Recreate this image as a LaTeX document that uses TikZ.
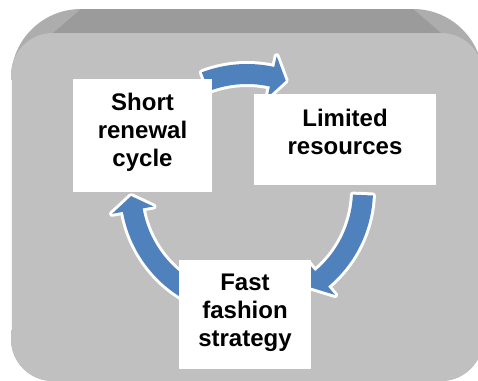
\documentclass[tikz,border=0pt]{standalone}
\usepackage{fontspec}
\setmainfont{Liberation Sans}
\definecolor{frontgray}{HTML}{C0C0C0}
\definecolor{topgray}{HTML}{9B9B9B}
\definecolor{sidegray}{HTML}{ADADAD}
\definecolor{cycleblue}{HTML}{4F81BD}
% curved arrow on a circle around (247,190):
% #1 tail angle, #2 head base angle, #3 tip angle
\newcommand\cyclearrow[3]{%
  \path[arrowshape]
    plot[domain=#1:#2,samples=40] ({247+126*cos(\x)},{190+126*sin(\x)})
    -- ({247+137*cos(#2)},{190+137*sin(#2)})
    -- ({247+116*cos(#3)},{190+116*sin(#3)})
    -- ({247+95*cos(#2)},{190+95*sin(#2)})
    -- plot[domain=#2:#1,samples=40] ({247+106*cos(\x)},{190+106*sin(\x)})
    -- cycle;}
\begin{document}
\begin{tikzpicture}[x=1pt,y=-1pt,
  arrowshape/.style={fill=cycleblue,
    preaction={draw=white,line width=6pt,line join=round}},
  card/.style={fill=white,draw=none,inner sep=0pt},
  cardtext/.style={align=center,inner sep=0pt,
    font=\fontsize{24}{28}\selectfont\bfseries}]
\useasboundingbox (0,0) rectangle (478,380);
\clip (0,0) rectangle (478,380);
% raised panel: extruded body, top face, front face
\fill[sidegray] (11,200) [rounded corners=70pt] -- (11,9) -- (483,9) -- (483,200)
  [rounded corners=42pt] -- (483,381) -- (11,381) -- cycle;
\fill[topgray] (81,9) -- (413,9) -- (441,33) -- (53,33) -- cycle;
\fill[frontgray, rounded corners=42pt] (11,33) rectangle (483,381);
\draw[white!85!frontgray, line width=1.2pt] (11.6,80) -- (11.6,330);
% cycle arrows
\cyclearrow{-111}{-77.5}{-70.5}
\cyclearrow{2.5}{50}{57}
\cyclearrow{118}{170}{177}
% cards
\node[card, minimum width=139pt, minimum height=113pt] (short) at (142.5,135.5) {};
\node[card, minimum width=182pt, minimum height=91pt] (limited) at (345,139.5) {};
\node[card, minimum width=132pt, minimum height=109pt] (fast) at (245,314.5) {};
\node[cardtext] (shortT) at (142.5,132) {Short\\renewal\\cycle};
\node[cardtext] (limitedT) at (345,132.4) {Limited\\resources};
\node[cardtext] (fastT) at (245,312.9) {Fast\\fashion\\strategy};
\end{tikzpicture}
\end{document}
